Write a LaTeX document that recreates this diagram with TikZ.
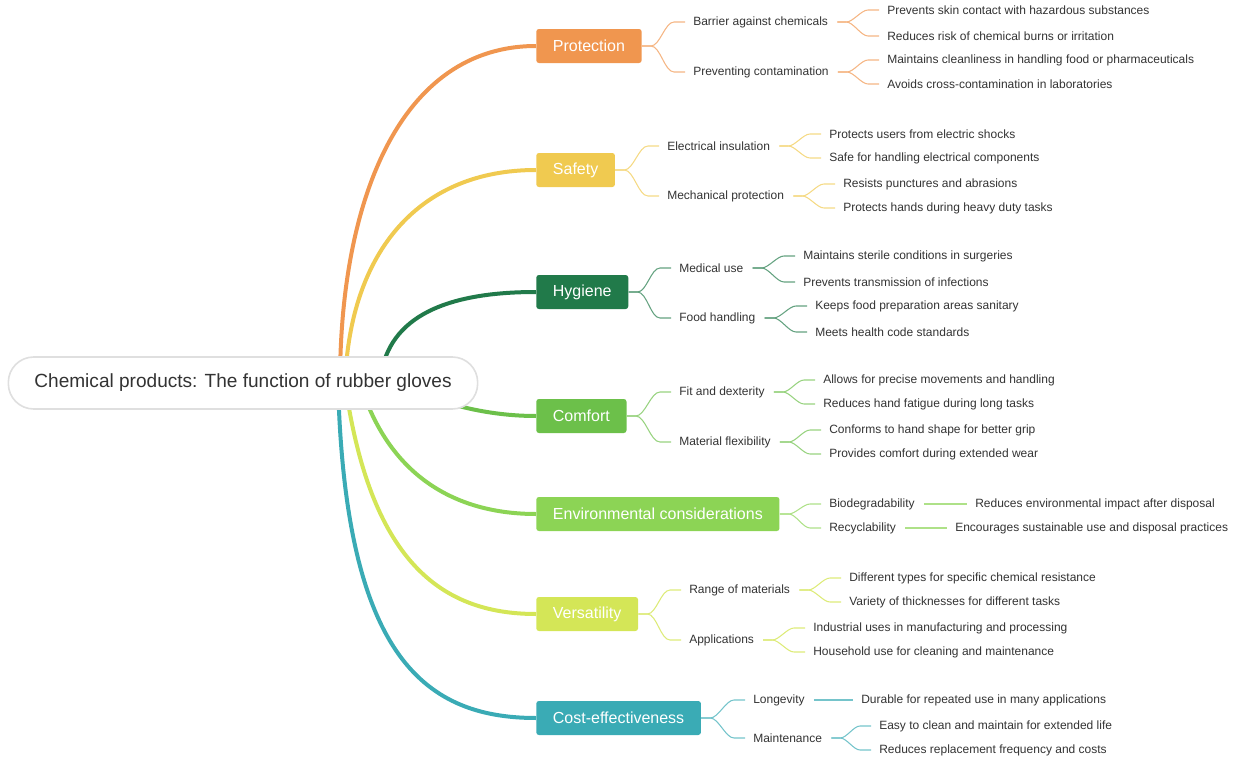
\documentclass[tikz,border=0pt]{standalone}
\usepackage{fontspec}
\setmainfont{Liberation Sans}
\usetikzlibrary{calc}
\definecolor{cP}{HTML}{F0964F}
\definecolor{cS}{HTML}{F0CA50}
\definecolor{cH}{HTML}{217A4A}
\definecolor{cC}{HTML}{6CC04A}
\definecolor{cE}{HTML}{8CD455}
\definecolor{cV}{HTML}{D4E657}
\definecolor{cK}{HTML}{3AABB5}
\definecolor{txt}{HTML}{333333}
\begin{document}
\begin{tikzpicture}[x=0.75pt,y=-0.75pt,
  topic/.style={anchor=west,rounded corners=2pt,minimum height=25.5pt,inner xsep=12.5pt,text=white,font=\fontsize{12}{14}\selectfont},
  sub/.style={anchor=west,inner xsep=0pt,inner ysep=2pt,text=txt,font=\fontsize{9}{11}\selectfont},
  main/.style={line width=3pt},
  thin/.style={line width=0.8pt}]
\useasboundingbox (0,0) rectangle (1240,760);
\newcommand\lnk[4]{\draw[thin,#4] ($(#1.east)+(#3,0)$) -- ++(9,0) to[out=0,in=180,looseness=0.7] ($(#2.west)+(-19,0)$) -- ($(#2.west)+(-8,0)$);}
% main branches
\draw[main,cK] (338,383) .. controls (345,650) and (420,718) .. (536,718);
\draw[main,cV] (345,383) .. controls (370,560) and (440,614) .. (536,614);
\draw[main,cE] (360,383) .. controls (390,480) and (460,514) .. (536,514);
\draw[main,cC] (400,383) .. controls (440,405) and (490,416) .. (536,416);
\draw[main,cH] (380,383) .. controls (385,320) and (440,292) .. (536,292);
\draw[main,cS] (345,383) .. controls (350,250) and (420,170) .. (536,170);
\draw[main,cP] (340,383) .. controls (340,200) and (400,46) .. (536,46);
% root
\node[draw=gray!25,line width=1.2pt,fill=white,rounded corners=19pt,minimum width=352pt,minimum height=39pt,text=txt,font=\fontsize{14.3}{16}\selectfont] (root) at (243,383) {Chemical products: The function of rubber gloves};
% topics
\node[topic,fill=cP] (P) at (536,46) {Protection};
\node[topic,fill=cS] (S) at (536,170) {Safety};
\node[topic,fill=cH] (H) at (536,292) {Hygiene};
\node[topic,fill=cC] (C) at (536,416) {Comfort};
\node[topic,fill=cE] (E) at (536,514) {Environmental considerations};
\node[topic,fill=cV] (V) at (536,614) {Versatility};
\node[topic,fill=cK] (K) at (536,718) {Cost-effectiveness};
% Protection
\node[sub] (P1) at (693,22) {Barrier against chemicals};
\node[sub] (P2) at (693,72) {Preventing contamination};
\node[sub] (P11) at (887,10) {Prevents skin contact with hazardous substances};
\node[sub] (P12) at (887,36) {Reduces risk of chemical burns or irritation};
\node[sub] (P21) at (887,60) {Maintains cleanliness in handling food or pharmaceuticals};
\node[sub] (P22) at (887,84) {Avoids cross-contamination in laboratories};
\lnk{P}{P1}{0}{cP!70}\lnk{P}{P2}{0}{cP!70}
\lnk{P1}{P11}{9}{cP!70}\lnk{P1}{P12}{9}{cP!70}\lnk{P2}{P21}{9}{cP!70}\lnk{P2}{P22}{9}{cP!70}
% Safety
\node[sub] (S1) at (667,146) {Electrical insulation};
\node[sub] (S2) at (667,196) {Mechanical protection};
\node[sub] (S11) at (829,134) {Protects users from electric shocks};
\node[sub] (S12) at (829,158) {Safe for handling electrical components};
\node[sub] (S21) at (843,184) {Resists punctures and abrasions};
\node[sub] (S22) at (843,208) {Protects hands during heavy duty tasks};
\lnk{S}{S1}{0}{cS!70}\lnk{S}{S2}{0}{cS!70}
\lnk{S1}{S11}{9}{cS!70}\lnk{S1}{S12}{9}{cS!70}\lnk{S2}{S21}{9}{cS!70}\lnk{S2}{S22}{9}{cS!70}
% Hygiene
\node[sub] (H1) at (679,268) {Medical use};
\node[sub] (H2) at (679,318) {Food handling};
\node[sub] (H11) at (803,256) {Maintains sterile conditions in surgeries};
\node[sub] (H12) at (803,282) {Prevents transmission of infections};
\node[sub] (H21) at (815,306) {Keeps food preparation areas sanitary};
\node[sub] (H22) at (815,332) {Meets health code standards};
\lnk{H}{H1}{0}{cH!70}\lnk{H}{H2}{0}{cH!70}
\lnk{H1}{H11}{9}{cH!70}\lnk{H1}{H12}{9}{cH!70}\lnk{H2}{H21}{9}{cH!70}\lnk{H2}{H22}{9}{cH!70}
% Comfort
\node[sub] (C1) at (679,392) {Fit and dexterity};
\node[sub] (C2) at (679,442) {Material flexibility};
\node[sub] (C11) at (823,380) {Allows for precise movements and handling};
\node[sub] (C12) at (823,404) {Reduces hand fatigue during long tasks};
\node[sub] (C21) at (829,430) {Conforms to hand shape for better grip};
\node[sub] (C22) at (829,454) {Provides comfort during extended wear};
\lnk{C}{C1}{0}{cC!70}\lnk{C}{C2}{0}{cC!70}
\lnk{C1}{C11}{9}{cC!70}\lnk{C1}{C12}{9}{cC!70}\lnk{C2}{C21}{9}{cC!70}\lnk{C2}{C22}{9}{cC!70}
% Environmental
\node[sub] (E1) at (829,504) {Biodegradability};
\node[sub] (E2) at (829,528) {Recyclability};
\node[sub] (E11) at (975,504) {Reduces environmental impact after disposal};
\node[sub] (E21) at (955,528) {Encourages sustainable use and disposal practices};
\lnk{E}{E1}{0}{cE!70}\lnk{E}{E2}{0}{cE!70}
\lnk{E1}{E11}{9}{cE!70}\lnk{E2}{E21}{9}{cE!70}
% Versatility
\node[sub] (V1) at (689,590) {Range of materials};
\node[sub] (V2) at (689,640) {Applications};
\node[sub] (V11) at (849,578) {Different types for specific chemical resistance};
\node[sub] (V12) at (849,602) {Variety of thicknesses for different tasks};
\node[sub] (V21) at (813,628) {Industrial uses in manufacturing and processing};
\node[sub] (V22) at (813,652) {Household use for cleaning and maintenance};
\lnk{V}{V1}{0}{cV!80}\lnk{V}{V2}{0}{cV!80}
\lnk{V1}{V11}{9}{cV!80}\lnk{V1}{V12}{9}{cV!80}\lnk{V2}{V21}{9}{cV!80}\lnk{V2}{V22}{9}{cV!80}
% Cost
\node[sub] (K1) at (753,700) {Longevity};
\node[sub] (K2) at (753,738) {Maintenance};
\node[sub] (K11) at (861,700) {Durable for repeated use in many applications};
\node[sub] (K21) at (879,726) {Easy to clean and maintain for extended life};
\node[sub] (K22) at (879,750) {Reduces replacement frequency and costs};
\lnk{K}{K1}{0}{cK!70}\lnk{K}{K2}{0}{cK!70}
\lnk{K1}{K11}{9}{cK!70}\lnk{K2}{K21}{9}{cK!70}\lnk{K2}{K22}{9}{cK!70}
\end{tikzpicture}
\end{document}
